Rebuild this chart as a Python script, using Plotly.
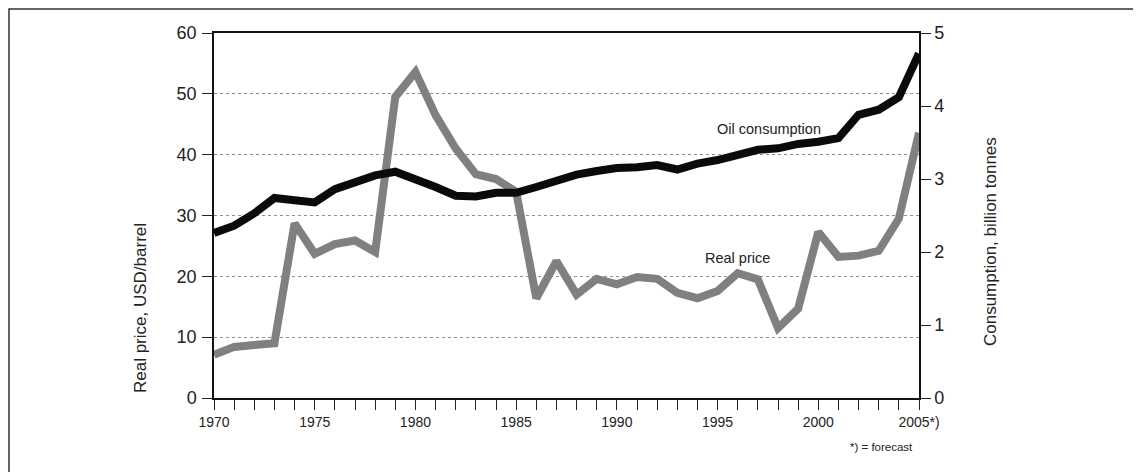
import plotly.graph_objects as go

years = list(range(1970, 2006))

# real oil price, USD/barrel (left axis)
real_price = [7.1, 8.4, 8.7, 9.0, 28.7, 23.7, 25.3, 25.9, 24.0, 49.5,
              53.6, 46.5, 41.0, 36.8, 36.0, 33.9, 16.4, 22.5, 17.0, 19.6,
              18.7, 19.9, 19.6, 17.3, 16.4, 17.6, 20.5, 19.5, 11.5, 14.7,
              27.3, 23.2, 23.4, 24.2, 29.5, 43.6]

# oil consumption, billion tonnes (right axis)
consumption = [2.26, 2.36, 2.53, 2.74, 2.71, 2.68, 2.86, 2.95, 3.05, 3.10,
               3.00, 2.89, 2.77, 2.76, 2.81, 2.81, 2.89, 2.98, 3.06, 3.11,
               3.15, 3.16, 3.19, 3.13, 3.21, 3.26, 3.33, 3.40, 3.42, 3.48,
               3.51, 3.56, 3.88, 3.95, 4.12, 4.72]

tick_labels = [str(y) if y % 5 == 0 else "" for y in years]
tick_labels[-1] = "2005*)"

FONT = "Liberation Sans, Arial, sans-serif"
INK = "#222222"

fig = go.Figure()

fig.add_trace(go.Scatter(
    x=years, y=consumption, yaxis="y2", mode="lines",
    name="Oil consumption", line=dict(color="#0a0a0a", width=8),
))
fig.add_trace(go.Scatter(
    x=years, y=real_price, mode="lines",
    name="Real price", line=dict(color="#808080", width=8),
))

fig.update_layout(
    width=1141, height=472,
    margin=dict(l=206, r=230, t=25, b=82),
    paper_bgcolor="white", plot_bgcolor="white",
    showlegend=False,
    font=dict(family=FONT, color=INK),
    xaxis=dict(
        range=[1970, 2005], tickmode="array", tickvals=years, ticktext=tick_labels,
        ticks="outside", ticklen=10, tickcolor="#222", tickwidth=1.2,
        tickfont=dict(size=14), showgrid=False, zeroline=False,
        showline=True, linecolor="#111", linewidth=1.5, mirror=True,
    ),
    yaxis=dict(
        range=[0, 60], dtick=10, ticks="outside", ticklen=10, tickcolor="#222",
        tickwidth=1.2, tickfont=dict(size=18), ticklabelstandoff=2,
        showgrid=True, gridcolor="#8f8f8f", griddash="dot", gridwidth=1,
        zeroline=False, showline=True, linecolor="#111", linewidth=1.5,
    ),
    yaxis2=dict(
        range=[0, 5], dtick=1, overlaying="y", side="right",
        ticks="outside", ticklen=10, tickcolor="#222", tickwidth=1.2,
        tickfont=dict(size=18), showgrid=False, zeroline=False,
        showline=True, linecolor="#111", linewidth=1.5,
    ),
)

fig.add_annotation(x=1997.56, y=44.2, text="Oil consumption", showarrow=False,
                   font=dict(size=14.5, color=INK))
fig.add_annotation(x=1996.0, y=23.0, text="Real price", showarrow=False,
                   font=dict(size=14.5, color=INK))
fig.add_annotation(x=0.9475, y=-0.134, xref="paper", yref="paper",
                   xanchor="center", yanchor="middle",
                   text="*) = forecast", showarrow=False,
                   font=dict(size=11.5, color=INK))
fig.add_annotation(x=-0.1035, y=0.2466, xref="paper", yref="paper",
                   xanchor="center", yanchor="middle",
                   text="Real price, USD/barrel", textangle=-90, showarrow=False,
                   font=dict(size=17, color=INK))
fig.add_annotation(x=1.1007, y=0.430, xref="paper", yref="paper",
                   xanchor="center", yanchor="middle",
                   text="Consumption, billion tonnes", textangle=-90, showarrow=False,
                   font=dict(size=17, color=INK))

# outer frame
fig.add_shape(type="rect", xref="paper", yref="paper",
              x0=-0.2908, x1=1.3064, y0=-0.3, y1=1.0658,
              line=dict(color="#333", width=1.5))

fig.write_html("out.html")
